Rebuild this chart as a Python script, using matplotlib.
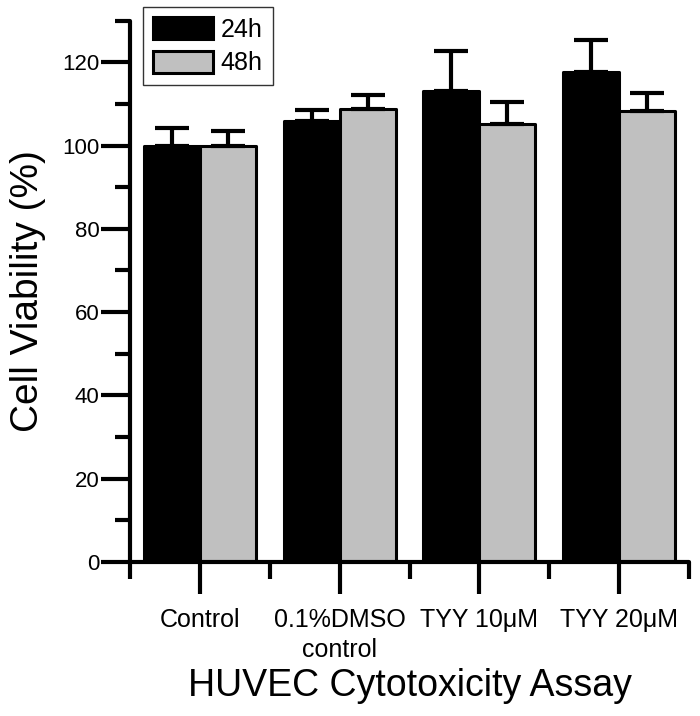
import numpy as np
import matplotlib
matplotlib.use("Agg")
import matplotlib.pyplot as plt
from matplotlib.ticker import FixedLocator

plt.rcParams['font.family'] = ['Liberation Sans', 'DejaVu Sans']

groups = ["Control", "0.1%DMSO\ncontrol", "TYY 10\u03bcM", "TYY 20\u03bcM"]
means24 = [100.0, 105.8, 113.0, 117.6]
err24 = [4.1, 2.8, 9.7, 7.7]
means48 = [99.8, 108.7, 105.1, 108.2]
err48 = [3.6, 3.5, 5.4, 4.3]

fig = plt.figure(figsize=(7.0, 7.16), dpi=100)
ax = fig.add_axes([130 / 700, 154 / 716, 559 / 700, 541.4 / 716])

x = np.arange(len(groups))
w = 0.4
ekw = dict(elinewidth=3, capthick=3, capsize=12, ecolor='black',
           solid_capstyle='round')

b1 = ax.bar(x - w / 2, means24, w, color='black', edgecolor='black',
            linewidth=2.2, label='24h', joinstyle='round')
b2 = ax.bar(x + w / 2, means48, w, color='#c0c0c0', edgecolor='black',
            linewidth=2.2, label='48h', joinstyle='round')
# one-sided (upper) error bars, drawn behind the bars
ax.errorbar(x - w / 2, means24, yerr=[np.zeros(4), err24], fmt='none', zorder=1, **ekw)
ax.errorbar(x + w / 2, means48, yerr=[np.zeros(4), err48], fmt='none', zorder=1, **ekw)

ax.set_xlim(-0.5, 3.5)
ax.set_ylim(0, 130)

for s in ['top', 'right']:
    ax.spines[s].set_visible(False)
for s in ['left', 'bottom']:
    ax.spines[s].set_linewidth(3)
    ax.spines[s].set_capstyle('round')

ax.set_yticks(np.arange(0, 121, 20))
ax.yaxis.set_minor_locator(FixedLocator([10, 30, 50, 70, 90, 110, 130]))
ax.set_xticks(x)
ax.set_xticklabels(groups, fontsize=18, linespacing=1.35)
ax.xaxis.set_minor_locator(FixedLocator([-0.5, 0.5, 1.5, 2.5, 3.5]))

ax.tick_params(axis='y', which='major', length=21, width=3, labelsize=16, pad=1)
ax.tick_params(axis='y', which='minor', length=11, width=3)
ax.tick_params(axis='x', which='major', length=23, width=3, pad=10)
ax.tick_params(axis='x', which='minor', length=12, width=3)

ax.set_ylabel("Cell Viability (%)", fontsize=28)
ax.yaxis.set_label_coords(-0.15, 0.5)
ax.set_xlabel("HUVEC Cytotoxicity Assay", fontsize=27, va='top')
ax.xaxis.set_label_coords(0.5, -0.195)

leg = ax.legend(handles=[b1, b2], loc='upper left',
                bbox_to_anchor=(143 / 700, 1 - 7 / 716),
                bbox_transform=fig.transFigure, borderaxespad=0,
                fontsize=18, fancybox=False, handlelength=2.4,
                handleheight=1.0, handletextpad=0.3, labelspacing=0.35,
                borderpad=0.4)
leg.get_frame().set_edgecolor('black')
leg.get_frame().set_linewidth(1)

fig.savefig("out.png", dpi=100)
